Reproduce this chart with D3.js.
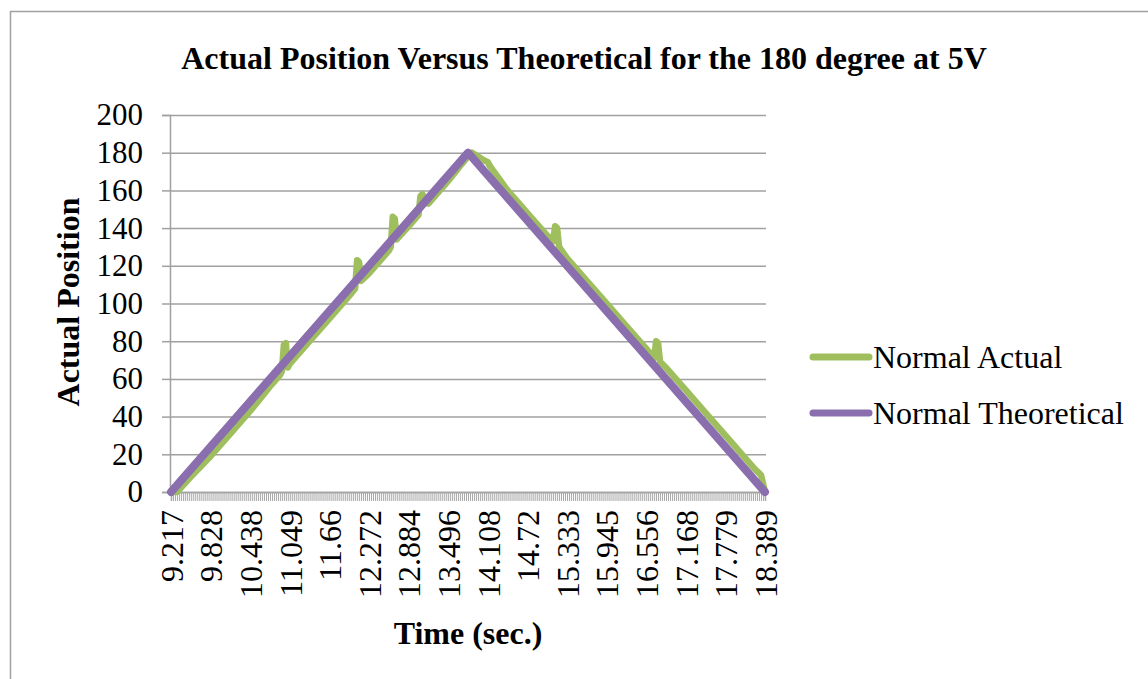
<!DOCTYPE html>
<html>
<head>
<meta charset="utf-8">
<script src="https://cdnjs.cloudflare.com/ajax/libs/d3/7.8.5/d3.min.js"></script>
<style>
  html, body { margin: 0; padding: 0; background: #fff; }
  svg { display: block; }
  text { font-family: "Liberation Serif", "Times New Roman", serif; fill: #000; }
</style>
</head>
<body>
<svg id="chart" width="1148" height="679"></svg>
<script>
// Time axis: one category per sample, a label on every 20th sample
const tickLabels = ["9.217", "9.828", "10.438", "11.049", "11.66", "12.272", "12.884", "13.496",
                    "14.108", "14.72", "15.333", "15.945", "16.556", "17.168", "17.779", "18.389"];
const samplesPerLabel = 20;
const sampleCount = (tickLabels.length - 1) * samplesPerLabel + 1;

// Theoretical position (degrees): linear ramp up to 180 and back to 0
const theoreticalSamples = [0, 150, 300];
const theoreticalValues  = [0, 180, 0];

// Measured position (degrees) at selected samples
const actualSamples = [0, 3, 10, 20, 30, 40, 50, 55, 56, 57, 58, 59, 60, 70, 80, 90, 93, 94, 95, 96,
                       100, 110, 111, 112, 113, 114, 120, 125, 126, 127, 128, 130, 140, 146, 150, 152,
                       155, 158, 160, 161, 163, 170, 180, 190, 193, 194, 195, 196, 200, 210, 220, 230,
                       240, 244, 245, 246, 247, 250, 260, 270, 280, 290, 295, 297, 298, 300];
const actualValues  = [0, 0, 8, 19, 31, 43, 56, 62, 64, 78, 79, 66, 68, 80, 92, 104, 108, 123, 122, 112,
                       116, 128, 130, 146, 145, 134, 141, 147, 157, 158, 155, 153, 165, 173, 178, 180,
                       178, 176, 175, 173, 170, 160, 148, 136, 133, 141, 140, 130, 124, 112, 100, 88,
                       76, 71, 80, 79, 69, 66, 54, 42, 30, 18, 12, 10, 9, 0];

const yTicks = [0, 20, 40, 60, 80, 100, 120, 140, 160, 180, 200];

const seriesNames  = ["Normal Actual", "Normal Theoretical"];
const seriesColors = ["#9fbf5f", "#8a6eae"];

const svg = d3.select("#chart");
const grid = "#a0a0a0";

// outer chart frame
svg.append("path")
  .attr("d", "M10.5,679 L10.5,11.5 L1148,11.5")
  .attr("fill", "none").attr("stroke", grid).attr("stroke-width", 1.5);

const plot = { left: 170, right: 766, top: 115, bottom: 492 };

const x = d3.scalePoint()
  .domain(d3.range(sampleCount))
  .range([plot.left + 1, plot.right - 1]);

const y = d3.scaleLinear()
  .domain([0, 200])
  .range([plot.bottom, plot.top]);

// horizontal gridlines with outward ticks on the value axis
const yAxis = svg.append("g")
  .attr("transform", `translate(${plot.left},0)`)
  .call(d3.axisLeft(y).tickValues(yTicks).tickSize(8).tickPadding(19).tickFormat(d3.format("d")));
yAxis.select(".domain").attr("stroke", grid).attr("stroke-width", 1.5);
yAxis.selectAll(".tick line").attr("stroke", grid).attr("stroke-width", 1.5);
yAxis.selectAll(".tick").append("line")
  .attr("x1", 0).attr("x2", plot.right - plot.left)
  .attr("stroke", grid).attr("stroke-width", 1.5);
yAxis.selectAll(".tick text")
  .style("font-family", '"Liberation Serif", serif')
  .style("font-size", "31px").attr("fill", "#000");

// category axis: a tick per sample, a label every 20 samples
const xAxis = svg.append("g")
  .attr("transform", `translate(0,${plot.bottom})`)
  .call(d3.axisBottom(x)
    .tickValues(d3.range(sampleCount))
    .tickSize(9)
    .tickFormat(i => i % samplesPerLabel === 0 ? tickLabels[i / samplesPerLabel] : ""));
xAxis.select(".domain").attr("stroke", grid).attr("stroke-width", 1.5);
xAxis.selectAll(".tick line").attr("stroke", "#a8a8a8").attr("stroke-width", 1);
xAxis.selectAll(".tick text")
  .style("font-family", '"Liberation Serif", serif')
  .style("font-size", "32px").attr("fill", "#000")
  .attr("transform", "rotate(-90)")
  .attr("text-anchor", "end")
  .attr("x", -18).attr("y", 0).attr("dy", "0.35em");

// series lines
const line = d3.line().x(d => x(d[0])).y(d => y(d[1]));

const actual = actualSamples.map((s, i) => [s, actualValues[i]]);
const theoretical = theoreticalSamples.map((s, i) => [s, theoreticalValues[i]]);

svg.append("path").datum(actual)
  .attr("d", line).attr("fill", "none")
  .attr("stroke", seriesColors[0]).attr("stroke-width", 6.5)
  .attr("stroke-linejoin", "round").attr("stroke-linecap", "round");

svg.append("path").datum(theoretical)
  .attr("d", line).attr("fill", "none")
  .attr("stroke", seriesColors[1]).attr("stroke-width", 8)
  .attr("stroke-linejoin", "round").attr("stroke-linecap", "round");

// titles
svg.append("text")
  .attr("x", 584).attr("y", 69)
  .attr("text-anchor", "middle")
  .style("font-size", "32px").style("font-weight", "bold")
  .text("Actual Position Versus Theoretical for the 180 degree at 5V");

svg.append("text")
  .attr("transform", "translate(79,302) rotate(-90)")
  .attr("text-anchor", "middle")
  .style("font-size", "32px").style("font-weight", "bold")
  .text("Actual Position");

svg.append("text")
  .attr("x", 468).attr("y", 644)
  .attr("text-anchor", "middle")
  .style("font-size", "32px").style("font-weight", "bold")
  .text("Time (sec.)");

// legend
const legend = svg.append("g");
seriesNames.forEach((name, i) => {
  const ly = 357 + i * 56;
  legend.append("line")
    .attr("x1", 813).attr("x2", 869).attr("y1", ly).attr("y2", ly)
    .attr("stroke", seriesColors[i]).attr("stroke-width", 7)
    .attr("stroke-linecap", "round");
  legend.append("text")
    .attr("x", 873).attr("y", ly + 11)
    .style("font-size", "32px")
    .text(name);
});
</script>
</body>
</html>
